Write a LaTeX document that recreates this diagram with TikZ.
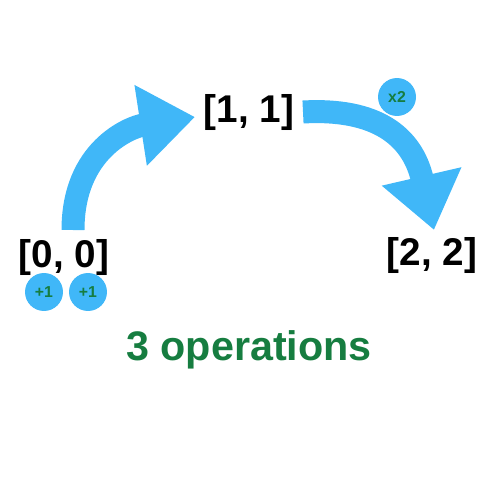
\documentclass[tikz,border=0pt]{standalone}
\usepackage{fontspec}
\setmainfont{Liberation Sans}
\usetikzlibrary{arrows.meta}
\definecolor{skyblue}{RGB}{64,183,248}
\definecolor{opgreen}{RGB}{22,125,64}

\begin{document}
\begin{tikzpicture}[
    x=0.02cm, y=-0.02cm,
    pair/.style={anchor=base, inner sep=0pt, font=\fontsize{22}{22}\selectfont\bfseries},
    opbubble/.style={circle, fill=skyblue, minimum size=0.76cm, inner sep=0pt,
      text=opgreen, font=\fontsize{9}{9}\selectfont\bfseries},
    bigarrow/.style={draw=skyblue, line width=0.46cm,
      -{Triangle[length=1.1cm, width=1.56cm]}},
  ]
  \useasboundingbox (0,0) rectangle (500,500);

  % the three states
  \node[pair] (p00) at (64,267) {[0, 0]};
  \node[pair] (p11) at (249,122) {[1, 1]};
  \node[pair] (p22) at (432,265) {[2, 2]};

  % operations
  \node[opbubble] (inc1) at (44,292) {+1};
  \node[opbubble] (inc2) at (88,292) {+1};
  \node[opbubble] (dbl) at (397,97) {x2};

  \node[anchor=base, inner sep=0pt, text=opgreen,
    font=\fontsize{23.5}{24}\selectfont\bfseries] (count) at (249,360) {3 operations};

  % arrows between states
  \coordinate (a1) at (73,230);
  \coordinate (b1) at (195,117);
  \coordinate (a2) at (303,112);
  \coordinate (b2) at (434,230);
  \draw[bigarrow] (a1) .. controls (73,150) and (130,127) .. (b1);
  \draw[bigarrow] (a2) .. controls (375,108) and (412,135) .. (b2);
\end{tikzpicture}
\end{document}
